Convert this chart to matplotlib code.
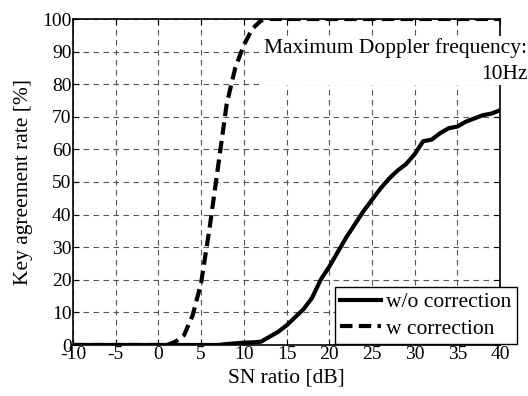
import matplotlib.pyplot as plt
import numpy as np

# SN ratio [dB]
snr = np.arange(-10, 41)

# key agreement rate [%], without correction
wo_corr = [0]*18 + [0.3, 0.5, 0.7, 0.8, 1, 2.5, 4, 6, 8.5, 11, 14.5, 20, 24,
                    28.5, 33, 37, 41, 44.5, 48, 51, 53.5, 55.5, 58.5, 62.5, 63,
                    65, 66.5, 67, 68.5, 69.5, 70.5, 71, 72]
# with correction
w_corr = [0]*12 + [1, 3, 9, 19, 36, 55, 74, 85, 92, 97, 99.5] + [100]*28

plt.rcParams['font.family'] = 'Liberation Serif'
plt.rcParams['font.size'] = 14
plt.rcParams['axes.unicode_minus'] = False

fig = plt.figure(figsize=(5.28, 3.96), dpi=100)
ax = fig.add_axes([73/528, 1-345/396, 427/528, 326/396])

ax.plot(snr, wo_corr, color='black', lw=3, ls='-', label='w/o correction')
ax.plot(snr, w_corr, color='black', lw=3, ls=(0, (3, 1.5)), label='w correction')

ax.set_xlim(-10, 40)
ax.set_ylim(0, 100)
ax.set_xticks(np.arange(-10, 41, 5))
ax.set_yticks(np.arange(0, 101, 10))
ax.tick_params(direction='in', top=True, right=True, length=4, pad=1)
ax.grid(True, color='#555555', ls=(0, (5, 4)), lw=0.8)
for s in ax.spines.values():
    s.set_linewidth(1.2)

ax.set_xlabel('SN ratio [dB]', fontsize=15.5, labelpad=4)
ax.set_ylabel('Key agreement rate [%]', fontsize=15.5, labelpad=7)

leg = ax.legend(loc='lower right', bbox_to_anchor=(517/528, 1-344/396),
                bbox_transform=fig.transFigure, fancybox=False,
                edgecolor='black', framealpha=1, fontsize=15.5,
                handlelength=1.9, borderpad=0.25, labelspacing=0.3,
                borderaxespad=0, handletextpad=0.25)
leg.get_frame().set_linewidth(1)

fig.text(0.999, 0.905, 'Maximum Doppler frequency:\n10Hz', ha='right', va='top',
         fontsize=15.5, multialignment='right', linespacing=1.5,
         bbox=dict(facecolor='white', edgecolor='none', pad=1))

fig.savefig('out.png', dpi=100)
